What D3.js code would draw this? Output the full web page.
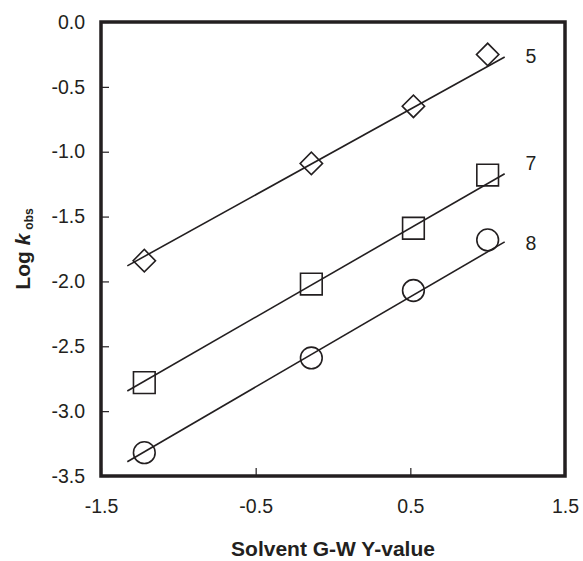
<!DOCTYPE html>
<html>
<head>
<meta charset="utf-8">
<script src="https://cdn.jsdelivr.net/npm/d3@7"></script>
<style>
  body { margin: 0; background: #fff; }
  svg { font-family: "Liberation Sans", Arial, sans-serif; }
  .tick text { font-size: 19.5px; fill: #231f20; }
  .tick line { stroke: #231f20; stroke-width: 1.2; }
</style>
</head>
<body>
<div id="chart"></div>
<script>
const width = 583;
const height = 561;
const margin = {top: 22, right: 18, bottom: 85, left: 101};

// solvent G-W Y-values (x) and log k_obs for the three compounds
const series = ['5', '7', '8'];
const shapes = ['diamond', 'square', 'circle'];
const xVals = [-1.22, -0.14, 0.52, 1.0];
const logK5 = [-1.84, -1.09, -0.65, -0.25];
const logK7 = [-2.78, -2.02, -1.59, -1.18];
const logK8 = [-3.32, -2.59, -2.07, -1.68];
// fitted lines as drawn: [x0, y0, x1, y1]
const fit5 = [-1.33, -1.88, 1.11, -0.27];
const fit7 = [-1.33, -2.845, 1.11, -1.17];
const fit8 = [-1.33, -3.39, 1.11, -1.695];
// where the series labels sit (x, log k)
const labelPos = [[1.28, -0.26], [1.28, -1.09], [1.28, -1.70]];
const xTicks = [-1.5, -0.5, 0.5, 1.5];
const yTicks = [0, -0.5, -1, -1.5, -2, -2.5, -3, -3.5];

const ys = [logK5, logK7, logK8];
const fits = [fit5, fit7, fit8];

const x = d3.scaleLinear().domain([-1.5, 1.5]).range([margin.left, width - margin.right]);
const y = d3.scaleLinear().domain([-3.5, 0]).range([height - margin.bottom, margin.top]);

const fmt = d => d3.format('.1f')(d).replace('\u2212', '-');

const svg = d3.select('#chart')
    .append('svg')
    .attr('width', width)
    .attr('height', height);

const ink = '#231f20';

// axes with inward ticks
svg.append('g')
    .attr('transform', `translate(0,${y(-3.5)})`)
    .call(d3.axisBottom(x).tickValues(xTicks).tickSize(-8).tickPadding(23).tickFormat(fmt))
    .call(g => g.select('.domain').remove());

svg.append('g')
    .attr('transform', `translate(${x(-1.5)},0)`)
    .call(d3.axisLeft(y).tickValues(yTicks).tickSize(-8).tickPadding(16).tickFormat(fmt))
    .call(g => g.select('.domain').remove());

// fitted lines
svg.append('g')
    .selectAll('line')
    .data(fits)
    .enter()
    .append('line')
    .attr('x1', d => x(d[0]))
    .attr('y1', d => y(d[1]))
    .attr('x2', d => x(d[2]))
    .attr('y2', d => y(d[3]))
    .attr('stroke', ink)
    .attr('stroke-width', 1.6);

// markers
const symbolType = {diamond: d3.symbolSquare, square: d3.symbolSquare, circle: d3.symbolCircle};
const symbolSize = {diamond: 250, square: 470, circle: 370};

series.forEach((s, i) => {
    const pts = xVals.map((xv, j) => [xv, ys[i][j]]);
    const shape = shapes[i];
    svg.append('g')
        .selectAll('path')
        .data(pts)
        .enter()
        .append('path')
        .attr('d', d3.symbol().type(symbolType[shape]).size(symbolSize[shape]))
        .attr('transform', d => `translate(${x(d[0])},${y(d[1])})` + (shape === 'diamond' ? ' rotate(45)' : ''))
        .attr('fill', 'none')
        .attr('stroke', ink)
        .attr('stroke-width', 1.6);

    svg.append('text')
        .attr('x', x(labelPos[i][0]))
        .attr('y', y(labelPos[i][1]))
        .attr('dy', '0.36em')
        .attr('text-anchor', 'middle')
        .attr('font-size', 19.5)
        .attr('fill', ink)
        .text(s);
});

// frame
svg.append('rect')
    .attr('x', x(-1.5))
    .attr('y', y(0))
    .attr('width', x(1.5) - x(-1.5))
    .attr('height', y(-3.5) - y(0))
    .attr('fill', 'none')
    .attr('stroke', ink)
    .attr('stroke-width', 3.5);

// axis titles
svg.append('text')
    .attr('x', (x(-1.5) + x(1.5)) / 2)
    .attr('y', 556)
    .attr('text-anchor', 'middle')
    .attr('font-size', 21)
    .attr('font-weight', 'bold')
    .attr('fill', ink)
    .text('Solvent G-W Y-value');

const yTitle = svg.append('text')
    .attr('transform', `translate(30,${(y(0) + y(-3.5)) / 2}) rotate(-90)`)
    .attr('text-anchor', 'middle')
    .attr('font-size', 21)
    .attr('font-weight', 'bold')
    .attr('fill', ink);
yTitle.append('tspan').text('Log ');
yTitle.append('tspan').attr('font-style', 'italic').text('k');
yTitle.append('tspan').attr('font-size', 12).attr('dx', 4).attr('dy', 3).text('obs');
</script>
</body>
</html>
